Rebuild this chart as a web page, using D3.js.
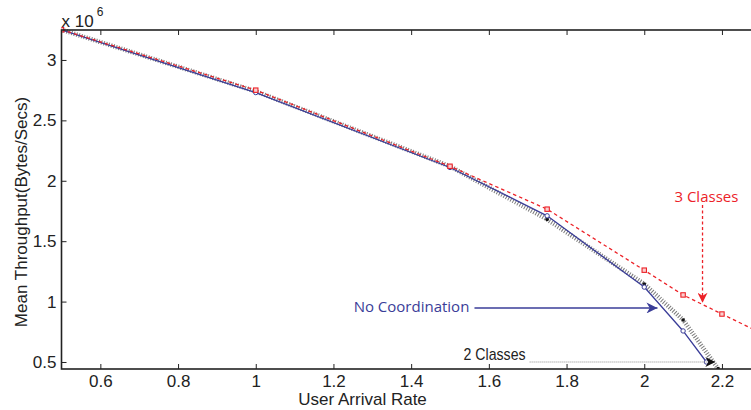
<!DOCTYPE html>
<html>
  <head>
    <meta charset="utf-8">
    <title>Mean Throughput vs User Arrival Rate</title>
    <script src="https://d3js.org/d3.v7.min.js"></script>
    <style>
      body { margin: 0; background: #fff; }
      .tick text { font-family: "Liberation Sans", Arial, sans-serif; font-size: 17px; fill: #222; }
    </style>
  </head>
  <body>
    <svg id="canvas" width="751" height="410"></svg>

    <script>
      // data (throughput in units of 1e6 bytes/sec)
      var classes3X = [0.5, 1, 1.5, 1.75, 2, 2.1, 2.2, 2.3];
      var classes3Y = [3.25, 2.75, 2.12, 1.765, 1.26, 1.055, 0.897, 0.74];

      var noCoordX = [0.5, 1, 1.5, 1.75, 2, 2.1, 2.16];
      var noCoordY = [3.25, 2.73, 2.11, 1.71, 1.12, 0.757, 0.5];

      var classes2X = [0.5, 1, 1.5, 1.75, 2, 2.1, 2.19];
      var classes2Y = [3.25, 2.74, 2.12, 1.68, 1.146, 0.848, 0.445];

      var xTicks = [0.6, 0.8, 1, 1.2, 1.4, 1.6, 1.8, 2, 2.2];
      var xTickLabels = ["0.6", "0.8", "1", "1.2", "1.4", "1.6", "1.8", "2", "2.2"];
      var yTicks = [0.5, 1, 1.5, 2, 2.5, 3];
      var yTickLabels = ["0.5", "1", "1.5", "2", "2.5", "3"];

      var red = "#ec2228", blue = "#3a3d98", gray = "#8c8c8c";

      var svg = d3.select("#canvas");
      svg.append("rect").attr("width", 751).attr("height", 410).attr("fill", "#fff");

      var x = d3.scaleLinear().domain([0.5, 2.3]).range([61.5, 760.8]);
      var y = d3.scaleLinear().domain([0.442, 3.248]).range([369, 30]);

      function pts(xs, ys) {
        return xs.map(function(v, i){ return [v, ys[i]]; });
      }

      svg.append("clipPath").attr("id", "plot")
        .append("rect")
        .attr("x", x(0.5)).attr("y", y(3.248) - 4)
        .attr("width", x(2.3) - x(0.5)).attr("height", y(0.442) - y(3.248) + 4);

      var line = d3.line()
        .x(function(d){ return x(d[0]); })
        .y(function(d){ return y(d[1]); });

      var g = svg.append("g").attr("clip-path", "url(#plot)");

      // 2 classes: hatched gray line
      g.append("path")
        .attr("d", line(pts(classes2X, classes2Y)))
        .attr("fill", "none")
        .attr("stroke", "#7a7a7a")
        .attr("stroke-width", 4.5)
        .attr("stroke-dasharray", "1,1.6");

      // no coordination: solid blue
      g.append("path")
        .attr("d", line(pts(noCoordX, noCoordY)))
        .attr("fill", "none")
        .attr("stroke", blue)
        .attr("stroke-width", 1.3);

      // 3 classes: dashed red
      g.append("path")
        .attr("d", line(pts(classes3X, classes3Y)))
        .attr("fill", "none")
        .attr("stroke", red)
        .attr("stroke-width", 1.3)
        .attr("stroke-dasharray", "3.5,3");

      g.selectAll(".c2").data(pts(classes2X, classes2Y)).enter()
        .append("circle")
        .attr("cx", function(d){ return x(d[0]); })
        .attr("cy", function(d){ return y(d[1]); })
        .attr("r", 1.8)
        .attr("fill", "#111");

      g.selectAll(".nc").data(pts(noCoordX, noCoordY)).enter()
        .append("circle")
        .attr("cx", function(d){ return x(d[0]); })
        .attr("cy", function(d){ return y(d[1]); })
        .attr("r", 2.2)
        .attr("fill", "#fff")
        .attr("stroke", blue)
        .attr("stroke-width", 1);

      g.selectAll(".c3").data(pts(classes3X, classes3Y)).enter()
        .append("rect")
        .attr("x", function(d){ return x(d[0]) - 2.2; })
        .attr("y", function(d){ return y(d[1]) - 2.2; })
        .attr("width", 4.4)
        .attr("height", 4.4)
        .attr("fill", "#fbd0d0")
        .attr("stroke", red)
        .attr("stroke-width", 1.1);

      // axes (MATLAB style, ticks inward)
      svg.append("g")
        .attr("transform", "translate(0," + y(0.442) + ")")
        .call(d3.axisBottom(x).tickValues(xTicks)
          .tickFormat(function(d, i){ return xTickLabels[i]; })
          .tickSizeInner(-5).tickSizeOuter(0).tickPadding(6))
        .call(function(a){ a.select(".domain").remove(); });

      svg.append("g")
        .attr("transform", "translate(0," + y(3.248) + ")")
        .call(d3.axisTop(x).tickValues(xTicks).tickFormat("")
          .tickSizeInner(-5).tickSizeOuter(0))
        .call(function(a){ a.select(".domain").remove(); });

      svg.append("g")
        .attr("transform", "translate(" + x(0.5) + ",0)")
        .call(d3.axisLeft(y).tickValues(yTicks)
          .tickFormat(function(d, i){ return yTickLabels[i]; })
          .tickSizeInner(-5).tickSizeOuter(0).tickPadding(5))
        .call(function(a){ a.select(".domain").remove(); });

      svg.selectAll(".tick line").attr("stroke", "#222").attr("stroke-width", 1);

      svg.append("rect")
        .attr("x", x(0.5)).attr("y", y(3.248))
        .attr("width", x(2.3) - x(0.5)).attr("height", y(0.442) - y(3.248))
        .attr("fill", "none")
        .attr("stroke", "#222")
        .attr("stroke-width", 1.6);

      // exponent
      var ex = svg.append("text")
        .attr("x", x(0.5)).attr("y", 27)
        .style("font-family", "Liberation Sans, Arial, sans-serif")
        .style("font-size", "17px")
        .attr("fill", "#222");
      ex.append("tspan").text("x 10");
      ex.append("tspan").attr("dx", 3).attr("dy", -11).style("font-size", "12px").text("6");

      // axis labels
      svg.append("text")
        .attr("x", x(1.275)).attr("y", 405)
        .attr("text-anchor", "middle")
        .style("font-family", "Liberation Sans, Arial, sans-serif")
        .style("font-size", "17px")
        .attr("fill", "#222")
        .text("User Arrival Rate");

      svg.append("text")
        .attr("transform", "translate(27,212) rotate(-90)")
        .attr("text-anchor", "middle")
        .style("font-family", "Liberation Sans, Arial, sans-serif")
        .style("font-size", "17px")
        .attr("fill", "#222")
        .text("Mean Throughput(Bytes/Secs)");

      // annotations
      var defs = svg.append("defs");
      function arrowHead(id, color, w, h) {
        defs.append("marker")
          .attr("id", id)
          .attr("viewBox", "0 0 10 10")
          .attr("refX", 10).attr("refY", 5)
          .attr("markerUnits", "userSpaceOnUse")
          .attr("markerWidth", w).attr("markerHeight", h)
          .attr("orient", "auto")
          .append("path")
          .attr("d", "M0,0 L10,5 L0,10 L3,5 Z")
          .attr("fill", color);
      }
      arrowHead("arRed", red, 12, 10);
      arrowHead("arBlue", blue, 13, 11);
      arrowHead("arBlack", "#111", 12, 10);

      svg.append("text")
        .attr("x", x(2.16)).attr("y", y(1.826))
        .attr("text-anchor", "middle")
        .style("font-family", "Open Sans, Noto Sans, sans-serif")
        .style("font-size", "15px")
        .attr("fill", red)
        .text("3 Classes");

      svg.append("line")
        .attr("x1", x(2.15)).attr("y1", y(1.80))
        .attr("x2", x(2.15)).attr("y2", y(0.99))
        .attr("stroke", red).attr("stroke-width", 1.3)
        .attr("stroke-dasharray", "3,2.5")
        .attr("marker-end", "url(#arRed)");

      svg.append("text")
        .attr("x", x(1.252)).attr("y", y(0.914))
        .style("font-family", "Open Sans, Noto Sans, sans-serif")
        .style("font-size", "15px")
        .attr("fill", blue)
        .text("No Coordination");

      svg.append("line")
        .attr("x1", x(1.563)).attr("y1", y(0.947))
        .attr("x2", x(2.034)).attr("y2", y(0.947))
        .attr("stroke", blue).attr("stroke-width", 1.3)
        .attr("marker-end", "url(#arBlue)");

      svg.append("text")
        .attr("x", x(1.535)).attr("y", y(0.515))
        .attr("textLength", 62)
        .attr("lengthAdjust", "spacingAndGlyphs")
        .style("font-family", "Liberation Sans, sans-serif")
        .style("font-size", "17px")
        .attr("fill", "#222")
        .text("2 Classes");

      svg.append("line")
        .attr("x1", x(1.705)).attr("y1", y(0.5))
        .attr("x2", x(2.183)).attr("y2", y(0.5))
        .attr("stroke", gray).attr("stroke-width", 1.2)
        .attr("stroke-dasharray", "1,1")
        .attr("marker-end", "url(#arBlack)");
    </script>
  </body>
</html>
